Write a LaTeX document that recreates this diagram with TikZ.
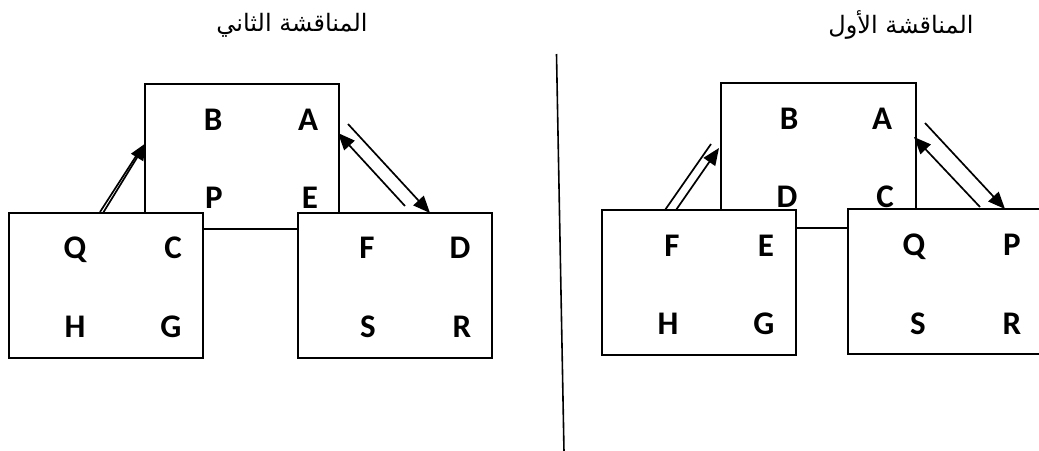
\documentclass[tikz,border=0pt]{standalone}
\usepackage{fontspec}
\setmainfont{Carlito}
\newfontfamily\arabicfont[Script=Arabic]{DejaVu Sans}
\TeXXeTstate=1
\usetikzlibrary{arrows.meta}
\begin{document}
\begin{tikzpicture}[x=1pt,y=-1pt,
  box/.style={draw,line width=1.8pt,fill=white,inner sep=0pt,minimum height=145pt},
  lbl/.style={font=\fontsize{33}{36}\selectfont\bfseries,inner sep=0pt},
  ttl/.style={font=\arabicfont\fontsize{24}{26}\selectfont,inner sep=0pt},
  conn/.style={line width=1.7pt},
  arr/.style={conn,-{Triangle[length=17pt,width=14pt]}}]
\useasboundingbox (0,0) rectangle (1039,450);
% titles
\node[ttl] (t2) at (292,25) {\beginR المناقشة الثاني\endR};
\node[ttl] (t1) at (901,25) {\beginR المناقشة الأول\endR};
% divider
\coordinate (dtop) at (556.5,54);
\coordinate (dbot) at (564,452);
\draw[line width=1.6pt] (dtop) -- (dbot);
% ---------- left panel ----------
\node[box,minimum width=194pt] (ltop) at (242,156.5) {};
\node[box,minimum width=194pt] (lleft) at (106,285.5) {};
\node[box,minimum width=194pt] (lright) at (395,285.5) {};
\node[lbl] (lB) at (213,120) {B};
\node[lbl] (lA) at (308,120) {A};
\node[lbl] (lP) at (214,198) {P};
\node[lbl] (lE) at (310,198) {E};
\node[lbl] (lQ) at (75,250) {Q};
\node[lbl] (lC) at (173,248) {C};
\node[lbl] (lH) at (75,327) {H};
\node[lbl] (lG) at (171,327) {G};
\node[lbl] (lF) at (367,248) {F};
\node[lbl] (lD) at (460,248) {D};
\node[lbl] (lS) at (368,327) {S};
\node[lbl] (lR) at (462,327) {R};
\coordinate (la1) at (100,212);
\coordinate (la2) at (140,150);
\coordinate (lb1) at (103,213);
\coordinate (lb2) at (146,143);
\draw[conn] (la1) -- (la2);
\draw[arr] (lb1) -- (lb2);
\coordinate (lc1) at (348,124);
\coordinate (lc2) at (430,213);
\coordinate (ld1) at (405,206);
\coordinate (ld2) at (338,133);
\draw[arr] (lc1) -- (lc2);
\draw[arr] (ld1) -- (ld2);
% ---------- right panel ----------
\node[box,minimum width=195pt] (rtop) at (818.5,155.5) {};
\node[box,minimum width=194pt] (rleft) at (699,282.5) {};
\node[box,minimum width=194pt] (rright) at (945,281.5) {};
\node[lbl] (rB) at (789,119) {B};
\node[lbl] (rA) at (882,119) {A};
\node[lbl] (rD) at (787,197) {D};
\node[lbl] (rC) at (885,197) {C};
\node[lbl] (rF) at (672,246) {F};
\node[lbl] (rE) at (766,246) {E};
\node[lbl] (rH) at (668,324) {H};
\node[lbl] (rG) at (764,324) {G};
\node[lbl] (rQ) at (914,247) {Q};
\node[lbl] (rP) at (1012,245) {P};
\node[lbl] (rS) at (918,324) {S};
\node[lbl] (rR) at (1012,324) {R};
\coordinate (ra1) at (665,210);
\coordinate (ra2) at (711,144);
\coordinate (rb1) at (676,210);
\coordinate (rb2) at (719,148);
\draw[conn] (ra1) -- (ra2);
\draw[arr] (rb1) -- (rb2);
\coordinate (rc1) at (925,123);
\coordinate (rc2) at (1005,209);
\coordinate (rd1) at (980,207);
\coordinate (rd2) at (914,137);
\draw[arr] (rc1) -- (rc2);
\draw[arr] (rd1) -- (rd2);
\end{tikzpicture}
\end{document}
